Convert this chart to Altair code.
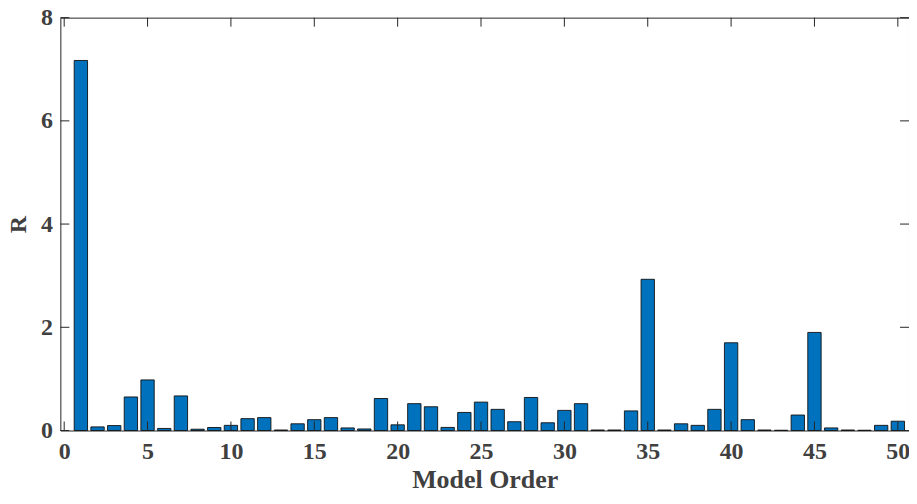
import altair as alt
import pandas as pd

orders = list(range(1, 51))
r_values = [7.17, 0.07, 0.096, 0.65, 0.98, 0.04, 0.67, 0.025, 0.058, 0.10,
            0.23, 0.25, 0.01, 0.13, 0.21, 0.25, 0.05, 0.03, 0.62, 0.11,
            0.52, 0.46, 0.06, 0.35, 0.55, 0.41, 0.17, 0.64, 0.15, 0.39,
            0.52, 0.01, 0.01, 0.38, 2.93, 0.01, 0.13, 0.10, 0.41, 1.70,
            0.21, 0.01, 0.005, 0.30, 1.90, 0.05, 0.01, 0.005, 0.10, 0.18]
x_ticks = [0, 5, 10, 15, 20, 25, 30, 35, 40, 45, 50]
y_ticks = [0, 2, 4, 6, 8]

W, H = 851, 414
TL = 9
FONT = "Liberation Serif"
TXT = "#404040"
AX = "#262626"

bars_df = pd.DataFrame({"order": orders, "R": r_values})
xt_df = pd.DataFrame({"xt": x_ticks})
yt_df = pd.DataFrame({"yt": y_ticks})

xscale = alt.Scale(domain=[-0.23, 50.67], nice=False, zero=False)
yscale = alt.Scale(domain=[0, 8], nice=False)
xaxis = alt.Axis(values=x_ticks, ticks=False, domain=False, grid=False,
                 labelPadding=9, titlePadding=3, titleFontSize=26, format="d")
yaxis = alt.Axis(values=y_ticks, ticks=False, domain=False, grid=False,
                 labelPadding=8, titlePadding=10, titleFontSize=24, format="d")


def X(f):
    return alt.X(f, scale=xscale, title="Model Order", axis=xaxis)


def Y(f):
    return alt.Y(f, scale=yscale, title="R", axis=yaxis)


bars = alt.Chart(bars_df).transform_calculate(
    lo="datum.order - 0.4", hi="datum.order + 0.4"
).mark_bar(color="#0072BD", stroke="#111111", strokeWidth=0.9).encode(
    x=X("lo:Q"), x2="hi:Q", y=Y("R:Q"), y2=alt.datum(0),
)

xb = alt.Chart(xt_df).mark_rule(color=AX, strokeWidth=1).encode(
    x=X("xt:Q"), y=alt.value(H), y2=alt.value(H - TL))
xtop = alt.Chart(xt_df).mark_rule(color=AX, strokeWidth=1).encode(
    x=X("xt:Q"), y=alt.value(0), y2=alt.value(TL))
yl = alt.Chart(yt_df).mark_rule(color=AX, strokeWidth=1).encode(
    y=Y("yt:Q"), x=alt.value(0), x2=alt.value(TL))
yr = alt.Chart(yt_df).mark_rule(color=AX, strokeWidth=1).encode(
    y=Y("yt:Q"), x=alt.value(W), x2=alt.value(W - TL))

chart = alt.layer(bars, xb, xtop, yl, yr).properties(
    width=W, height=H,
    autosize=alt.AutoSizeParams(type="none"),
    padding={"left": 52.5, "top": 9, "right": 0, "bottom": 65},
).configure_view(stroke=AX, strokeWidth=1).configure_axis(
    labelFont=FONT, labelFontSize=24, labelFontWeight="bold", labelColor=TXT,
    titleFont=FONT, titleFontWeight="bold", titleColor=TXT,
)

chart.save("out.html", embed_options={"renderer": "svg", "actions": False})
